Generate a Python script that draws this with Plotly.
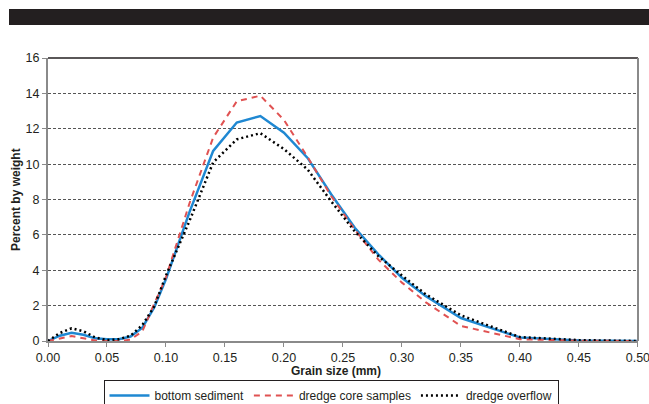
import plotly.graph_objects as go

grain_size = [0.00, 0.01, 0.02, 0.03, 0.04, 0.05, 0.06, 0.07, 0.08, 0.09, 0.10, 0.12,
              0.14, 0.16, 0.18, 0.20, 0.22, 0.24, 0.26, 0.28, 0.30, 0.32, 0.35, 0.40,
              0.45, 0.50]
bottom_sediment = [0.0, 0.30, 0.47, 0.35, 0.15, 0.10, 0.10, 0.25, 0.75, 1.90, 3.5, 7.3,
                   10.75, 12.35, 12.72, 11.78, 10.35, 8.3, 6.4, 4.9, 3.57, 2.55, 1.3, 0.2,
                   0.03, 0.0]
dredge_core = [0.0, 0.15, 0.28, 0.15, 0.03, 0.0, 0.0, 0.08, 0.55, 2.10, 3.6, 7.8,
               11.5, 13.55, 13.87, 12.5, 10.4, 8.2, 6.3, 4.6, 3.3, 2.2, 0.85, 0.1,
               0.02, 0.0]
dredge_overflow = [0.0, 0.45, 0.72, 0.55, 0.20, 0.05, 0.10, 0.30, 0.90, 1.95, 3.7, 6.8,
                   10.1, 11.4, 11.75, 10.85, 9.7, 7.9, 6.2, 4.8, 3.7, 2.65, 1.45, 0.22,
                   0.05, 0.0]

y_ticks = [0, 2, 4, 6, 8, 10, 12, 14, 16]
x_ticks = [0.00, 0.05, 0.10, 0.15, 0.20, 0.25, 0.30, 0.35, 0.40, 0.45, 0.50]
x_tick_text = ["0.00", "0.05", "0.10", "0.15", "0.20", "0.25", "0.30", "0.35",
               "0.40", "0.45", "0.50"]
x_title = "Grain size (mm)"
y_title = "Percent by weight"

fig = go.Figure()
fig.add_trace(go.Scatter(x=grain_size, y=bottom_sediment, mode="lines",
                         name="bottom sediment",
                         line=dict(color="#1f88d2", width=2.5)))
fig.add_trace(go.Scatter(x=grain_size, y=dredge_core, mode="lines",
                         name="dredge core samples",
                         line=dict(color="#e05252", width=2, dash="6px,5px")))
fig.add_trace(go.Scatter(x=grain_size, y=dredge_overflow, mode="lines",
                         name="dredge overflow",
                         line=dict(color="#000000", width=2.5, dash="2px,3px")))

font_family = "Liberation Sans, Arial, sans-serif"
fig_w, fig_h = 649, 404
m_l, m_t = 48, 58
plot_w, plot_h = 590.0, 283.0
m_r = fig_w - m_l - int(plot_w)
m_b = fig_h - m_t - int(plot_h)

fig.update_layout(
    width=fig_w, height=fig_h,
    margin=dict(l=m_l, r=m_r, t=m_t, b=m_b, autoexpand=False),
    paper_bgcolor="white", plot_bgcolor="white",
    font=dict(family=font_family, size=12.5, color="#231f20"),
    showlegend=True,
    legend=dict(orientation="h", x=(331 - m_l) / plot_w, xanchor="center",
                y=-39 / plot_h, yanchor="top",
                bordercolor="#231f20", borderwidth=1, font=dict(size=12),
                tracegroupgap=0, itemwidth=40),
    xaxis=dict(range=[0, 0.5001], tickvals=x_ticks, ticktext=x_tick_text,
               showgrid=False, zeroline=False, showline=True, linecolor="#8a8a8a",
               linewidth=2, ticks="outside", tickcolor="#8a8a8a", ticklen=4,
               automargin=False, ticklabeloverflow="allow"),
    yaxis=dict(range=[0, 16], tickvals=y_ticks, showgrid=True, gridcolor="#555555",
               griddash="3px,2px", gridwidth=1, zeroline=False, showline=True,
               linecolor="#8a8a8a", linewidth=2, ticks="outside", tickcolor="#8a8a8a",
               ticklen=4, automargin=False),
    annotations=[
        dict(text="<b>" + x_title + "</b>", xref="paper", yref="paper",
             x=(336 - m_l) / plot_w, y=-(371 - (m_t + plot_h)) / plot_h,
             xanchor="center", yanchor="middle", showarrow=False,
             font=dict(size=12)),
        dict(text="<b>" + y_title + "</b>", xref="paper", yref="paper",
             x=(16 - m_l) / plot_w, y=(m_t + plot_h - 200) / plot_h,
             xanchor="center", yanchor="middle", showarrow=False, textangle=-90,
             font=dict(size=12)),
    ],
    shapes=[
        dict(type="line", xref="paper", yref="paper", x0=0, x1=1, y0=1, y1=1,
             line=dict(color="#231f20", width=1.5)),
        dict(type="line", xref="paper", yref="paper", x0=1, x1=1, y0=0, y1=1,
             line=dict(color="#8a8a8a", width=2)),
        dict(type="rect", xref="paper", yref="paper",
             x0=(9 - m_l) / plot_w, x1=(fig_w - m_l) / plot_w,
             y0=(m_t + plot_h - 25) / plot_h, y1=(m_t + plot_h - 9) / plot_h,
             line=dict(width=0), fillcolor="#231f20", layer="above"),
    ],
)

fig.write_html(
    "out.html",
    config={"displayModeBar": False},
    post_script="document.body.style.margin='0';document.body.style.overflow='hidden';",
)
